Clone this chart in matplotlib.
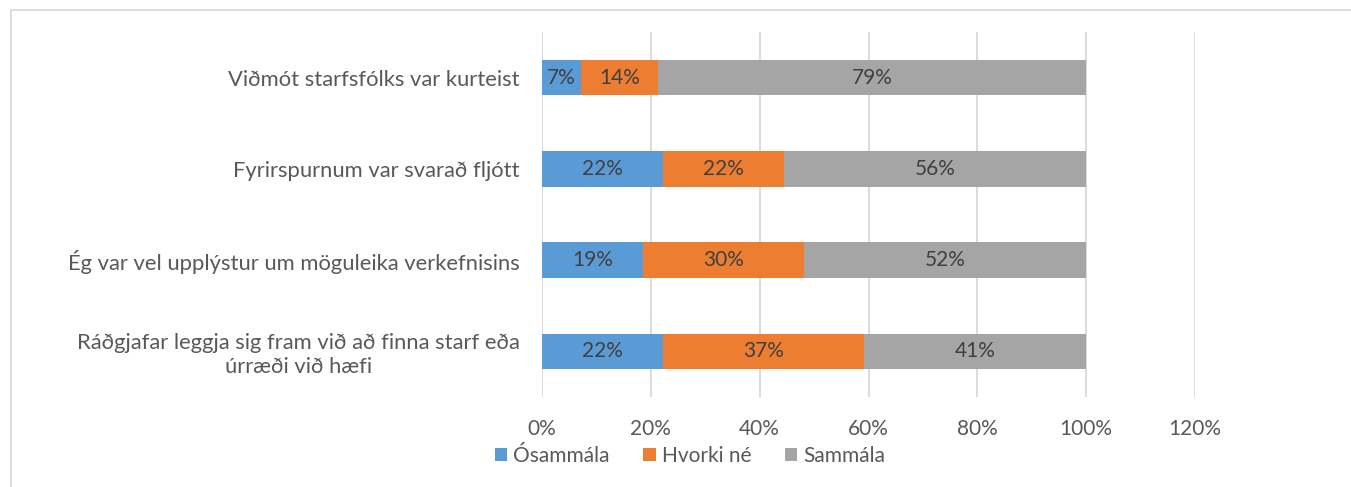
import matplotlib.pyplot as plt
from matplotlib.patches import Rectangle
import numpy as np

categories = [
    "Viðmót starfsfólks var kurteist",
    "Fyrirspurnum var svarað fljótt",
    "Ég var vel upplýstur um möguleika verkefnisins",
    "Ráðgjafar leggja sig fram við að finna starf eða\núrræði við hæfi",
]
series_names = ["Ósammála", "Hvorki né", "Sammála"]
osammala = [7.1, 22.2, 18.6, 22.2]
hvorki = [14.3, 22.2, 29.6, 37.0]
sammala = [78.6, 55.6, 51.8, 40.8]
xticks = [0, 20, 40, 60, 80, 100, 120]

COLORS = ["#5B9BD5", "#ED7D31", "#A5A5A5"]
TEXT = "#595959"
FS = 15
plt.rcParams["font.family"] = ["Lato", "DejaVu Sans"]

fig = plt.figure(figsize=(13.51, 4.87), dpi=100)
fig.patch.set_facecolor("white")
# outer chart frame (only top and left visible in crop)
fig.patches.append(Rectangle((10.5 / 1351, -0.1), 1.2, 1 - 9.5 / 487 + 0.1,
                             transform=fig.transFigure, fill=False,
                             edgecolor="#D9D9D9", linewidth=1.3))

ax = fig.add_axes([542 / 1351, 1 - 397 / 487, 653 / 1351, 365 / 487])
y = np.arange(len(categories))
left = np.zeros(len(categories))
for name, vals, color in zip(series_names, [osammala, hvorki, sammala], COLORS):
    bars = ax.barh(y, vals, left=left, height=0.39, color=color, label=name, zorder=3)
    for rect, v in zip(bars, vals):
        ax.text(rect.get_x() + rect.get_width() / 2, rect.get_y() + rect.get_height() / 2,
                f"{v:.0f}%", ha="center", va="center", fontsize=FS, color="#404040", zorder=4)
    left += np.array(vals)

ax.set_xlim(0, 120)
ax.set_ylim(len(categories) - 0.5, -0.5)
ax.set_xticks(xticks)
ax.set_xticklabels([f"{t}%" for t in xticks], fontsize=FS, color=TEXT)
ax.set_yticks(y)
ax.set_yticklabels(categories, fontsize=15.8, color=TEXT, ha="right", multialignment="center")
ax.tick_params(axis="y", length=0, pad=16)
ax.tick_params(axis="x", length=0, pad=16)
ax.grid(axis="x", color="#D9D9D9", linewidth=1.3, zorder=0)
for s in ax.spines.values():
    s.set_visible(False)

leg = fig.legend(loc="center", bbox_to_anchor=(690 / 1351, 1 - 456 / 487), ncol=3,
                 frameon=False, fontsize=FS, handlelength=0.6, handleheight=0.6,
                 handletextpad=0.3, columnspacing=1.6)
for t in leg.get_texts():
    t.set_color(TEXT)

fig.savefig("out.png", dpi=100)
